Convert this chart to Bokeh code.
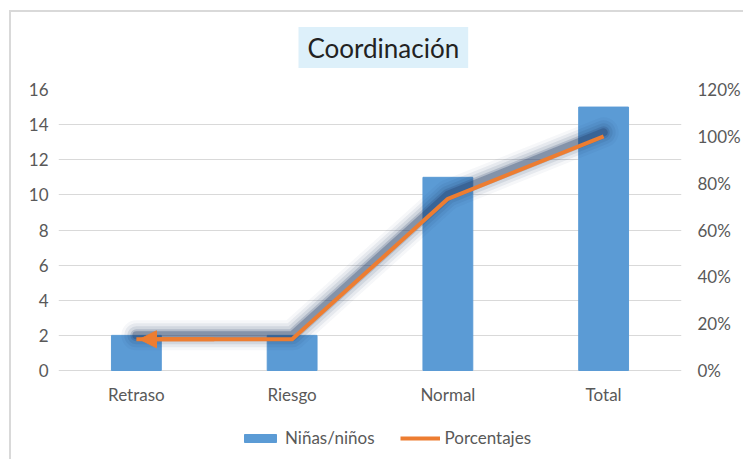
from bokeh.plotting import figure
from bokeh.models import (FactorRange, Range1d, LinearAxis, CustomJSTickFormatter,
                          Legend, LegendItem, Arrow, NormalHead, ColumnDataSource, Title,
                          InlineStyleSheet)
from bokeh.embed import file_html
from bokeh.resources import INLINE

categories = ["Retraso", "Riesgo", "Normal", "Total"]
counts = [2, 2, 11, 15]
percentages = [13.33, 13.33, 73.33, 100.0]
left_ticks = [0, 2, 4, 6, 8, 10, 12, 14, 16]
right_ticks = [0, 20, 40, 60, 80, 100, 120]
title_text = "Coordinación"

FONT = "Lato"
TXT = "#595959"
GRID = "#d9d9d9"
BAR = "#5B9BD5"
ORANGE = "#ED7D31"
GLOW = "#1F3864"

# layout (pixels)
W, H = 743, 459
FRAME_TOP, ZERO_Y = 89, 370
px_per_unit = (ZERO_Y - FRAME_TOP) / left_ticks[-1]
below = (H - ZERO_Y) / px_per_unit
pct_scale = right_ticks[-1] / left_ticks[-1]
label_offset = 24 / px_per_unit
shadow_shift = 4 / px_per_unit * pct_scale

src = ColumnDataSource(dict(cat=categories, n=counts, pct=percentages,
                            ly=[-label_offset] * len(categories)))

p = figure(width=W, height=H, x_range=FactorRange(factors=categories, range_padding=0),
           y_range=Range1d(-below, left_ticks[-1]), output_backend="svg", toolbar_location=None,
           x_axis_location=None,
           min_border_left=58, min_border_right=60, min_border_top=FRAME_TOP, min_border_bottom=0,
           background_fill_color="white", border_fill_color="white")
p.outline_line_color = None
p.stylesheets = [InlineStyleSheet(css=":host::after { content: ''; position: absolute; "
                                  "left: 9px; top: 10px; right: 0; bottom: 0; "
                                  "border-top: 2px solid #d9d9d9; border-left: 2px solid #d9d9d9; "
                                  "pointer-events: none; }")]

p.extra_y_ranges = {"pct": Range1d(-below * pct_scale, right_ticks[-1]),
                    "shadow": Range1d(-below * pct_scale - shadow_shift, right_ticks[-1] - shadow_shift)}

# title
t = Title(text=title_text, align="left", text_font=FONT, text_font_size="26px",
          text_font_style="normal", text_color="#222222", background_fill_color="#DDF0FA",
          padding=dict(left=9, right=9, top=5, bottom=4), offset=240, standoff=43)
p.add_layout(t, "above")

# axes
p.yaxis.ticker = left_ticks
p.yaxis.axis_line_color = None
p.yaxis.major_tick_line_color = None
p.yaxis.minor_tick_line_color = None
p.yaxis.major_tick_out = 0
p.yaxis.major_label_text_font = FONT
p.yaxis.major_label_text_font_size = "17px"
p.yaxis.major_label_text_color = TXT
p.yaxis.major_label_standoff = 10

rax = LinearAxis(y_range_name="pct", ticker=right_ticks,
                 formatter=CustomJSTickFormatter(code="return tick + '%';"))
rax.axis_line_color = None
rax.major_tick_line_color = None
rax.minor_tick_line_color = None
rax.major_tick_out = 0
rax.minor_tick_out = 0
rax.major_label_text_font = FONT
rax.major_label_text_font_size = "17px"
rax.major_label_text_color = TXT
rax.major_label_standoff = 16
p.add_layout(rax, "right")

p.xgrid.grid_line_color = None
p.ygrid.grid_line_color = GRID
p.ygrid.ticker = left_ticks

bars = p.vbar(x="cat", top="n", width=0.32, source=src, fill_color=BAR, line_color=BAR)

# category labels
p.text(x="cat", y="ly", text="cat", source=src, text_align="center", text_baseline="middle",
       text_font={"value": FONT}, text_font_size="17px", text_color=TXT)

# glow / shadow of the line
for w, a in [(30, 0.04), (24, 0.07), (18, 0.1), (12, 0.18), (8, 0.3)]:
    p.line(x="cat", y="pct", source=src, y_range_name="shadow", line_color=GLOW,
           line_width=w, line_alpha=a, line_join="round", line_cap="round")
line = p.line(x="cat", y="pct", source=src, y_range_name="pct", line_color=ORANGE,
              line_width=4, line_join="round")

# arrow head at the first point
x0 = categories.index(categories[0]) + 0.5
x1 = categories.index(categories[1]) + 0.5
p.add_layout(Arrow(end=NormalHead(size=17, fill_color=ORANGE, line_color=ORANGE),
                   x_start=(x0 + x1) / 2, y_start=percentages[0], x_end=x0 + 0.02, y_end=percentages[0],
                   y_range_name="pct", line_color=ORANGE, line_width=4))

legend = Legend(items=[LegendItem(label="Niñas/niños", renderers=[bars]),
                       LegendItem(label="Porcentajes", renderers=[line])],
                orientation="horizontal", location=(182, 11),
                label_text_font=FONT, label_text_font_size="17px", label_text_color=TXT,
                glyph_width=40, glyph_height=10, label_standoff=5, spacing=25,
                padding=4, margin=0,
                border_line_color=None, background_fill_alpha=0)
p.add_layout(legend)

open("out.html", "w").write(file_html(p, INLINE))
